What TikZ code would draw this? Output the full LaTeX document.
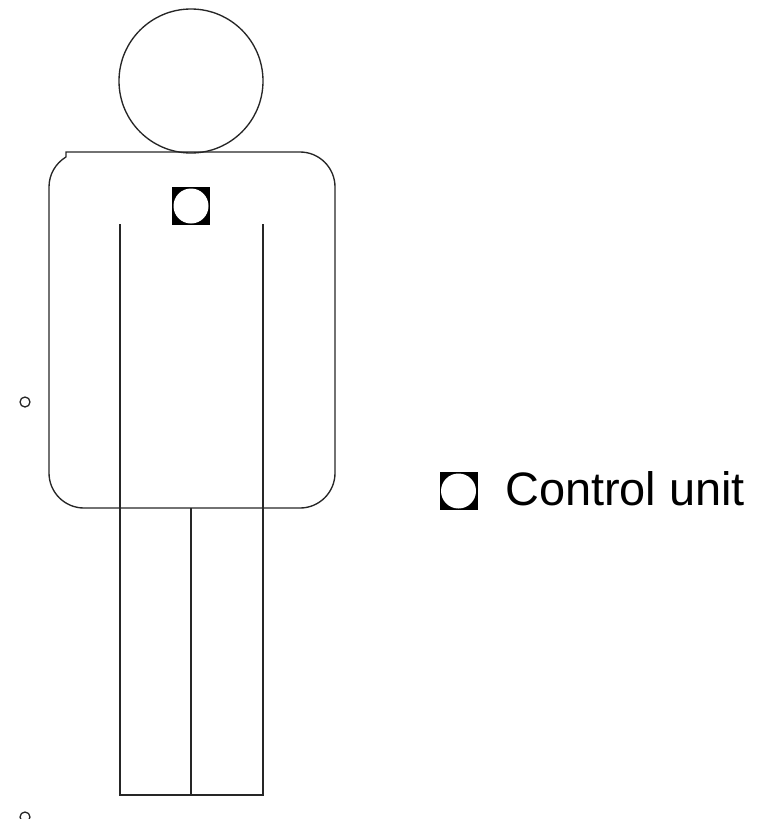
\documentclass[tikz,border=0pt]{standalone}
\usepackage{fontspec}
\setmainfont{Liberation Sans}
\tikzset{
  figline/.style={draw=black!85, line width=1.35pt},
  thinring/.style={draw=black!85, line width=1.3pt},
  unitbox/.style={fill=black, draw=none},
  unitdot/.style={fill=white, draw=none}
}
\begin{document}
\begin{tikzpicture}[x=1pt,y=-1pt]
\useasboundingbox (0,0) rectangle (766,819);
% head
\draw[figline] (191,81) circle (72);
% body
\draw[figline] (66,157) -- (66,152) -- (300,152) arc[start angle=-90,end angle=0,radius=35] -- (335,473)
  arc[start angle=0,end angle=90,radius=35] -- (84,508)
  arc[start angle=90,end angle=180,radius=35] -- (49,187)
  arc[start angle=180,end angle=239,radius=35];
% legs
\draw[figline] (120,224) -- (120,795) -- (263,795) -- (263,224);
\draw[figline] (191,508) -- (191,795);
% control unit on chest
\fill[unitbox] (172,187) rectangle (210,225);
\fill[unitdot] (191,206) circle (17.5);
% small rings
\draw[thinring] (25,402) circle (5);
\draw[thinring] (25,817) circle (5);
% legend
\fill[unitbox] (439.5,472) rectangle (477.5,510);
\fill[unitdot] (458.5,491) circle (17.5);
\node[anchor=base west, inner sep=0pt, font=\fontsize{46.9}{50}\selectfont, text=black] (legendtext) at (505,505) {Control unit};
\end{tikzpicture}
\end{document}
